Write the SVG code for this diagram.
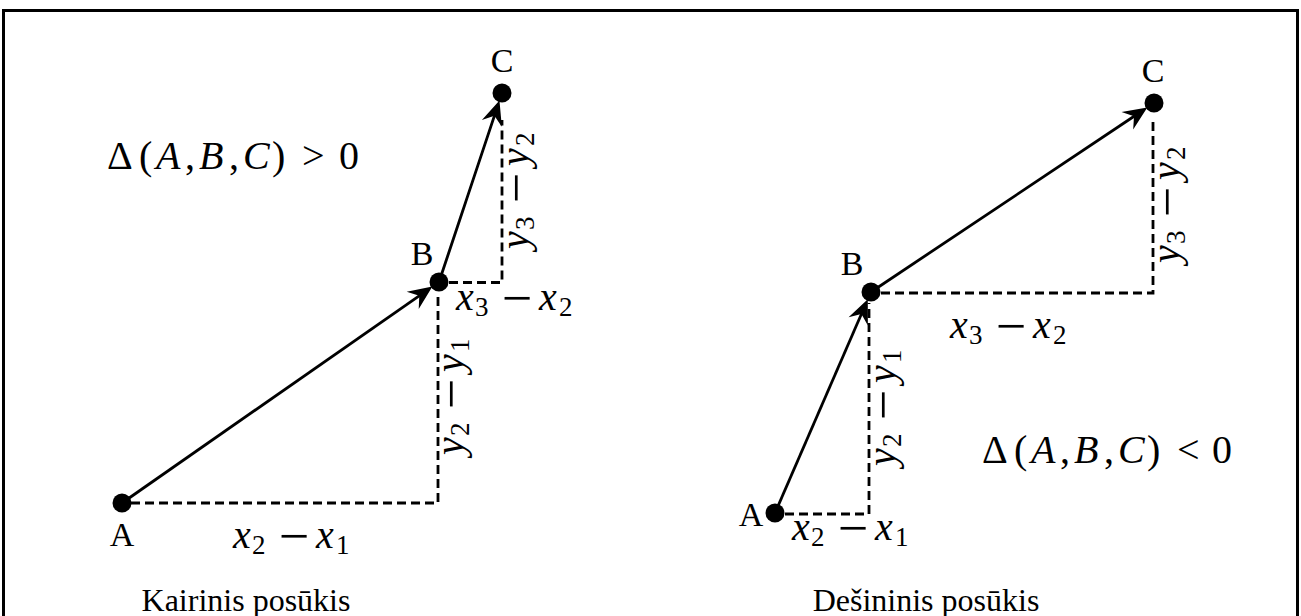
<svg xmlns="http://www.w3.org/2000/svg" width="1301" height="616" viewBox="0 0 1301 616">
<style>
.frame{fill:none;stroke:#000;stroke-width:3}
.dot{fill:#000}
.arrow{fill:none;stroke:#000;stroke-width:2.8;marker-end:url(#stealth)}
.dash{fill:none;stroke:#000;stroke-width:2.8;stroke-dasharray:9 5}
text{font-family:"Liberation Serif","Times New Roman",serif;fill:#000}
.lbl{font-size:34px;text-anchor:middle}
.m{font-size:40px}
.mi{font-style:italic}
.sub{font-size:27px;font-style:normal}
.minus{font-size:54px;text-anchor:middle;font-style:normal}
.cap{font-size:32px;text-anchor:middle}
</style>
<defs>
<marker id="stealth" markerUnits="userSpaceOnUse" viewBox="-26 -13 28 26" markerWidth="28" markerHeight="26" refX="-10" refY="0" orient="auto">
<path d="M0,0 L-24,-10.5 L-16,0 L-24,10.5 Z" fill="#000"/>
</marker>
</defs>
<rect class="frame" x="3.5" y="10.5" width="1294" height="700"/>

<g id="connectors">
<path class="dash" d="M131,503 H438 V293"/>
<path class="dash" d="M449,282.5 H502 V120"/>
<path class="dash" d="M785,514 H869 V303"/>
<path class="dash" d="M881,293 H1153 V120"/>
<path class="arrow" d="M122,503 L424.2,292.3"/>
<path class="arrow" d="M439,282 L496.3,110.1"/>
<path class="arrow" d="M775,513 L863.8,308.5"/>
<path class="arrow" d="M871,292 L1139,113"/>
</g>

<g id="left-A"><circle class="dot" cx="122" cy="503" r="9.5"/><text class="lbl" x="122" y="546">A</text></g>
<g id="left-B"><circle class="dot" cx="439" cy="282" r="9.5"/><text class="lbl" x="422" y="265">B</text></g>
<g id="left-C"><circle class="dot" cx="502" cy="93" r="9.5"/><text class="lbl" x="502" y="72">C</text></g>
<g id="right-A"><circle class="dot" cx="775" cy="513" r="9.5"/><text class="lbl" x="751" y="526">A</text></g>
<g id="right-B"><circle class="dot" cx="871" cy="292" r="9.5"/><text class="lbl" x="852" y="275">B</text></g>
<g id="right-C"><circle class="dot" cx="1154" cy="103" r="9.5"/><text class="lbl" x="1153" y="82">C</text></g>

<g id="labels">
<text class="m" transform="translate(293,548)"><tspan class="mi" x="-60" y="0">x</tspan><tspan class="sub" x="-41" y="6">2</tspan><tspan class="minus" x="1" y="6">−</tspan><tspan class="mi" x="23" y="0">x</tspan><tspan class="sub" x="43" y="6">1</tspan></text>
<text class="m" transform="translate(516,310)"><tspan class="mi" x="-60" y="0">x</tspan><tspan class="sub" x="-41" y="6">3</tspan><tspan class="minus" x="1" y="6">−</tspan><tspan class="mi" x="23" y="0">x</tspan><tspan class="sub" x="43" y="6">2</tspan></text>
<text class="m" transform="translate(528,189) rotate(-90)"><tspan class="mi" x="-60" y="0">y</tspan><tspan class="sub" x="-41" y="6">3</tspan><tspan class="minus" x="1" y="6">−</tspan><tspan class="mi" x="23" y="0">y</tspan><tspan class="sub" x="43" y="6">2</tspan></text>
<text class="m" transform="translate(463,395) rotate(-90)"><tspan class="mi" x="-60" y="0">y</tspan><tspan class="sub" x="-41" y="6">2</tspan><tspan class="minus" x="1" y="6">−</tspan><tspan class="mi" x="23" y="0">y</tspan><tspan class="sub" x="43" y="6">1</tspan></text>

<text class="m" transform="translate(852,540)"><tspan class="mi" x="-60" y="0">x</tspan><tspan class="sub" x="-41" y="6">2</tspan><tspan class="minus" x="1" y="6">−</tspan><tspan class="mi" x="23" y="0">x</tspan><tspan class="sub" x="43" y="6">1</tspan></text>
<text class="m" transform="translate(1010,338)"><tspan class="mi" x="-60" y="0">x</tspan><tspan class="sub" x="-41" y="6">3</tspan><tspan class="minus" x="1" y="6">−</tspan><tspan class="mi" x="23" y="0">x</tspan><tspan class="sub" x="43" y="6">2</tspan></text>
<text class="m" transform="translate(895,406) rotate(-90)"><tspan class="mi" x="-60" y="0">y</tspan><tspan class="sub" x="-41" y="6">2</tspan><tspan class="minus" x="1" y="6">−</tspan><tspan class="mi" x="23" y="0">y</tspan><tspan class="sub" x="43" y="6">1</tspan></text>
<text class="m" transform="translate(1179,203) rotate(-90)"><tspan class="mi" x="-60" y="0">y</tspan><tspan class="sub" x="-41" y="6">3</tspan><tspan class="minus" x="1" y="6">−</tspan><tspan class="mi" x="23" y="0">y</tspan><tspan class="sub" x="43" y="6">2</tspan></text>

<text class="m" y="169"><tspan x="107">Δ</tspan><tspan x="139">(</tspan><tspan class="mi" x="156">A</tspan><tspan x="185">,</tspan><tspan class="mi" x="199">B</tspan><tspan x="229">,</tspan><tspan class="mi" x="243">C</tspan><tspan x="272">)</tspan><tspan x="302">&gt;</tspan><tspan x="339">0</tspan></text>
<text class="m" y="463"><tspan x="982">Δ</tspan><tspan x="1014">(</tspan><tspan class="mi" x="1031">A</tspan><tspan x="1060">,</tspan><tspan class="mi" x="1074">B</tspan><tspan x="1104">,</tspan><tspan class="mi" x="1118">C</tspan><tspan x="1147">)</tspan><tspan x="1177">&lt;</tspan><tspan x="1212">0</tspan></text>

<text class="cap" x="246" y="611">Kairinis posūkis</text>
<text class="cap" x="926" y="611">Dešininis posūkis</text>
</g>
</svg>
